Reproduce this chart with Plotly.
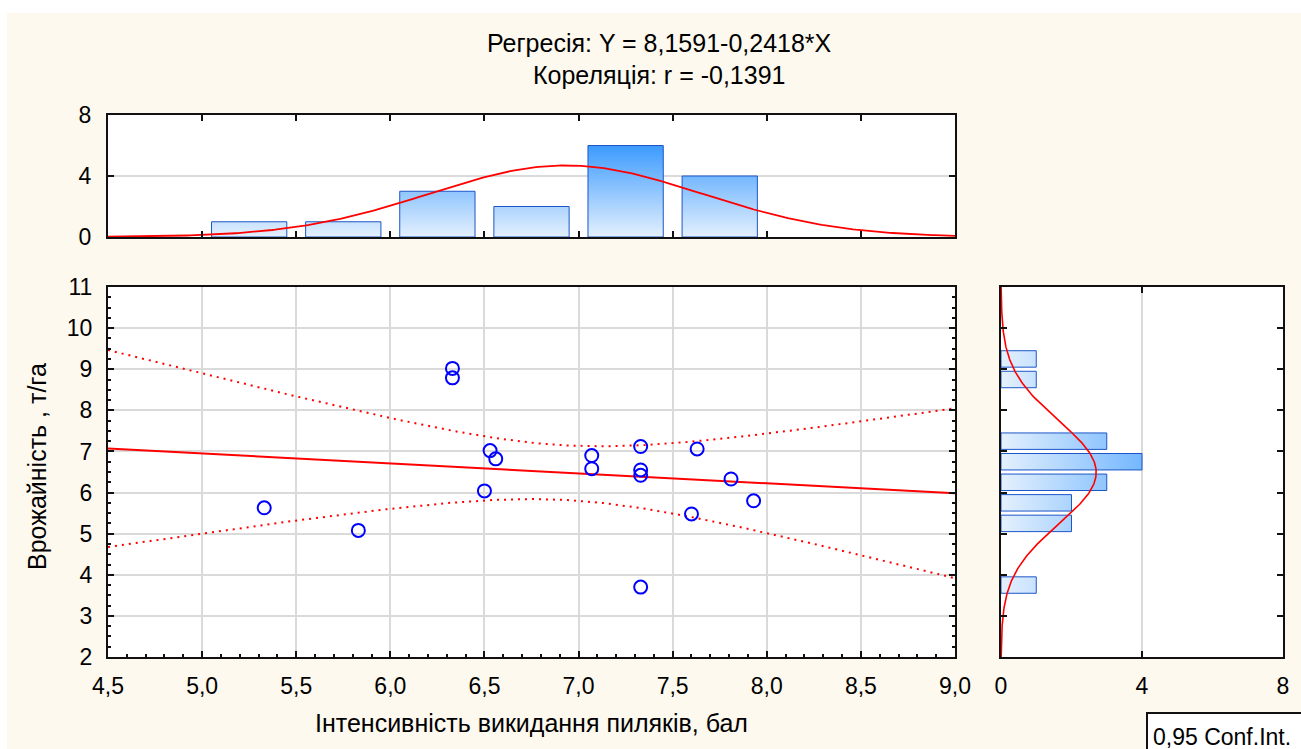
import numpy as np
import plotly.graph_objects as go

# ---------------- data ----------------
x_vals = [5.33, 5.83, 6.33, 6.33, 6.50, 6.53, 6.56, 7.07, 7.07,
          7.33, 7.33, 7.33, 7.33, 7.63, 7.60, 7.81, 7.93]
y_vals = [5.63, 5.08, 9.02, 8.79, 6.04, 7.02, 6.82, 6.90, 6.58,
          7.12, 6.55, 6.42, 3.70, 7.06, 5.48, 6.33, 5.80]

# histogram of X (bin lower edges, counts)
x_bin_low = [5.0, 5.5, 6.0, 6.5, 7.0, 7.5]
x_bin_cnt = [1, 1, 3, 2, 6, 4]
# histogram of Y (bin lower edges, counts)
y_bin_low = [3.5, 5.0, 5.5, 6.0, 6.5, 7.0, 8.5, 9.0]
y_bin_cnt = [1, 2, 2, 3, 4, 3, 1, 1]
bin_w = 0.5

# regression from the chart title
reg_a, reg_b = 8.1591, -0.2418
t_crit = 2.1314  # t(0.975, 15)

x_ticks = [4.5, 5.0, 5.5, 6.0, 6.5, 7.0, 7.5, 8.0, 8.5, 9.0]
y_ticks = [2, 3, 4, 5, 6, 7, 8, 9, 10, 11]

title1 = "Регресія: Y = 8,1591-0,2418*X"
title2 = "Кореляція: r = -0,1391"
x_title = "Інтенсивність викидання пиляків, бал"
y_title = "Врожайність , т/га"
ci_label = "0,95 Conf.Int."

# ---------------- styling ----------------
W, H = 1301, 749
BG = "#FEF9EE"
FONT = "Liberation Sans, Arial, sans-serif"
RED = "#FF0000"
BLUE = "#0000FF"
BAR_LINE = "#1C56C8"
GRAD = [[0, "#E4F0FD"], [1, "#3C9BFF"]]
GRID = "#DADADA"

def px_x(p):
    return p / W

def px_y(p):
    return 1 - p / H

main_x_dom = [px_x(108), px_x(955)]
main_y_dom = [px_y(657), px_y(287)]
top_y_dom = [px_y(237), px_y(115)]
right_x_dom = [px_x(1001), px_x(1283)]

xa = np.array(x_vals)
ya = np.array(y_vals)
n = len(xa)

fig = go.Figure()

# ---- top histogram (X) ----
gap = 0.05
for lo, c in zip(x_bin_low, x_bin_cnt):
    x0, x1 = lo + gap, lo + bin_w - gap
    fig.add_trace(go.Scatter(
        x=[x0, x1, x1, x0, x0], y=[0, 0, c, c, 0],
        xaxis="x2", yaxis="y2", mode="lines", fill="toself",
        fillgradient=dict(type="vertical", colorscale=GRAD, start=0, stop=6),
        line=dict(color=BAR_LINE, width=1), hoverinfo="skip", showlegend=False))

mx, sx = xa.mean(), xa.std(ddof=1)
xg = np.linspace(4.5, 9.0, 300)
fig.add_trace(go.Scatter(
    x=xg, y=n * bin_w / (sx * np.sqrt(2 * np.pi)) * np.exp(-0.5 * ((xg - mx) / sx) ** 2),
    xaxis="x2", yaxis="y2", mode="lines", line=dict(color=RED, width=1.8),
    showlegend=False, hoverinfo="skip"))

# ---- right histogram (Y) ----
for lo, c in zip(y_bin_low, y_bin_cnt):
    y0, y1 = lo + gap, lo + bin_w - gap
    fig.add_trace(go.Scatter(
        x=[0, c, c, 0, 0], y=[y0, y0, y1, y1, y0],
        xaxis="x3", yaxis="y3", mode="lines", fill="toself",
        fillgradient=dict(type="horizontal", colorscale=GRAD, start=0, stop=6),
        line=dict(color=BAR_LINE, width=1), hoverinfo="skip", showlegend=False))

my, sy = ya.mean(), ya.std(ddof=1)
yg = np.linspace(2.0, 11.0, 300)
fig.add_trace(go.Scatter(
    y=yg, x=n * bin_w / (sy * np.sqrt(2 * np.pi)) * np.exp(-0.5 * ((yg - my) / sy) ** 2),
    xaxis="x3", yaxis="y3", mode="lines", line=dict(color=RED, width=1.6),
    showlegend=False, hoverinfo="skip"))

# ---- main scatter ----
yhat = reg_a + reg_b * xg
resid = ya - (reg_a + reg_b * xa)
s = np.sqrt(np.sum(resid ** 2) / (n - 2))
sxx = np.sum((xa - mx) ** 2)
half = t_crit * s * np.sqrt(1 / n + (xg - mx) ** 2 / sxx)

fig.add_trace(go.Scatter(x=xg, y=yhat + half, mode="lines", xaxis="x", yaxis="y",
                         line=dict(color=RED, width=2, dash="2px,5px"), showlegend=False))
fig.add_trace(go.Scatter(x=xg, y=yhat - half, mode="lines", xaxis="x", yaxis="y",
                         line=dict(color=RED, width=2, dash="2px,5px"), showlegend=False))
fig.add_trace(go.Scatter(x=xg, y=yhat, mode="lines", xaxis="x", yaxis="y",
                         line=dict(color=RED, width=2), showlegend=False))
fig.add_trace(go.Scatter(x=xa, y=ya, mode="markers", xaxis="x", yaxis="y",
                         marker=dict(symbol="circle-open", size=13, color=BLUE,
                                     line=dict(width=2, color=BLUE)),
                         showlegend=False))

tickfont = dict(family=FONT, size=23, color="black")
common = dict(showline=True, linecolor="#111", linewidth=2, ticks="inside",
              tickcolor="#111", tickwidth=1.5, ticklen=6, zeroline=False,
              tickfont=tickfont, gridcolor=GRID, gridwidth=1.5, automargin=False)

fig.update_layout(
    template="none",
    width=W, height=H, margin=dict(l=0, r=0, t=0, b=0, pad=0, autoexpand=False),
    paper_bgcolor=BG, plot_bgcolor="white", separators=", ",
    font=dict(family=FONT, size=23, color="black"),
    xaxis=dict(domain=main_x_dom, anchor="y", range=[4.5, 9.0], tickvals=x_ticks,
               tickformat=".1f", showgrid=True, mirror=True, ticklabelstandoff=7,
               minor=dict(dtick=0.1, tick0=4.5, ticks="inside", ticklen=3,
                          tickcolor="#111", showgrid=False), **common),
    yaxis=dict(domain=main_y_dom, anchor="x", range=[2, 11], tickvals=y_ticks,
               showgrid=True, mirror="allticks", ticklabelstandoff=9,
               minor=dict(dtick=0.25, tick0=2, ticks="inside", ticklen=3,
                          tickcolor="#111", showgrid=False), **common),
    xaxis2=dict(domain=main_x_dom, anchor="y2", range=[4.5, 9.0], tickvals=x_ticks,
                showticklabels=False, showgrid=False, mirror="allticks", **common),
    yaxis2=dict(domain=top_y_dom, anchor="x2", range=[0, 8], tickvals=[0, 4, 8],
                showgrid=True, mirror="allticks", ticklabelstandoff=10, **common),
    xaxis3=dict(domain=right_x_dom, anchor="y3", range=[0, 8], tickvals=[0, 4, 8],
                showgrid=True, mirror="allticks", ticklabelstandoff=7, **common),
    yaxis3=dict(domain=main_y_dom, anchor="x3", range=[2, 11], tickvals=y_ticks,
                showticklabels=False, showgrid=False, mirror="allticks", **common),
    shapes=[
        dict(type="rect", xref="paper", yref="paper", x0=0, x1=1, y0=px_y(13), y1=1.01,
             fillcolor="white", line=dict(width=0), layer="below"),
        dict(type="rect", xref="paper", yref="paper", x0=-0.01, x1=px_x(7), y0=-0.01, y1=1.01,
             fillcolor="white", line=dict(width=0), layer="below"),
        dict(type="rect", xref="paper", yref="paper", x0=px_x(1147), x1=1.02,
             y0=-0.02, y1=px_y(713), fillcolor="white", line=dict(color="#111", width=2)),
    ],
    annotations=[
        dict(text=title1, xref="paper", yref="paper", x=px_x(659), y=px_y(43),
             showarrow=False, font=dict(family=FONT, size=25), xanchor="center", yanchor="middle"),
        dict(text=title2, xref="paper", yref="paper", x=px_x(659), y=px_y(75),
             showarrow=False, font=dict(family=FONT, size=25), xanchor="center", yanchor="middle"),
        dict(text=x_title, xref="paper", yref="paper", x=px_x(531), y=px_y(723),
             showarrow=False, font=dict(family=FONT, size=25), xanchor="center", yanchor="middle"),
        dict(text=y_title, xref="paper", yref="paper", x=px_x(37), y=px_y(467),
             showarrow=False, font=dict(family=FONT, size=25), textangle=-90,
             xanchor="center", yanchor="middle"),
        dict(text=ci_label, xref="paper", yref="paper", x=px_x(1151), y=px_y(737),
             showarrow=False, font=dict(family=FONT, size=23), xanchor="left", yanchor="middle"),
    ],
)

fig.write_html("out.html")
